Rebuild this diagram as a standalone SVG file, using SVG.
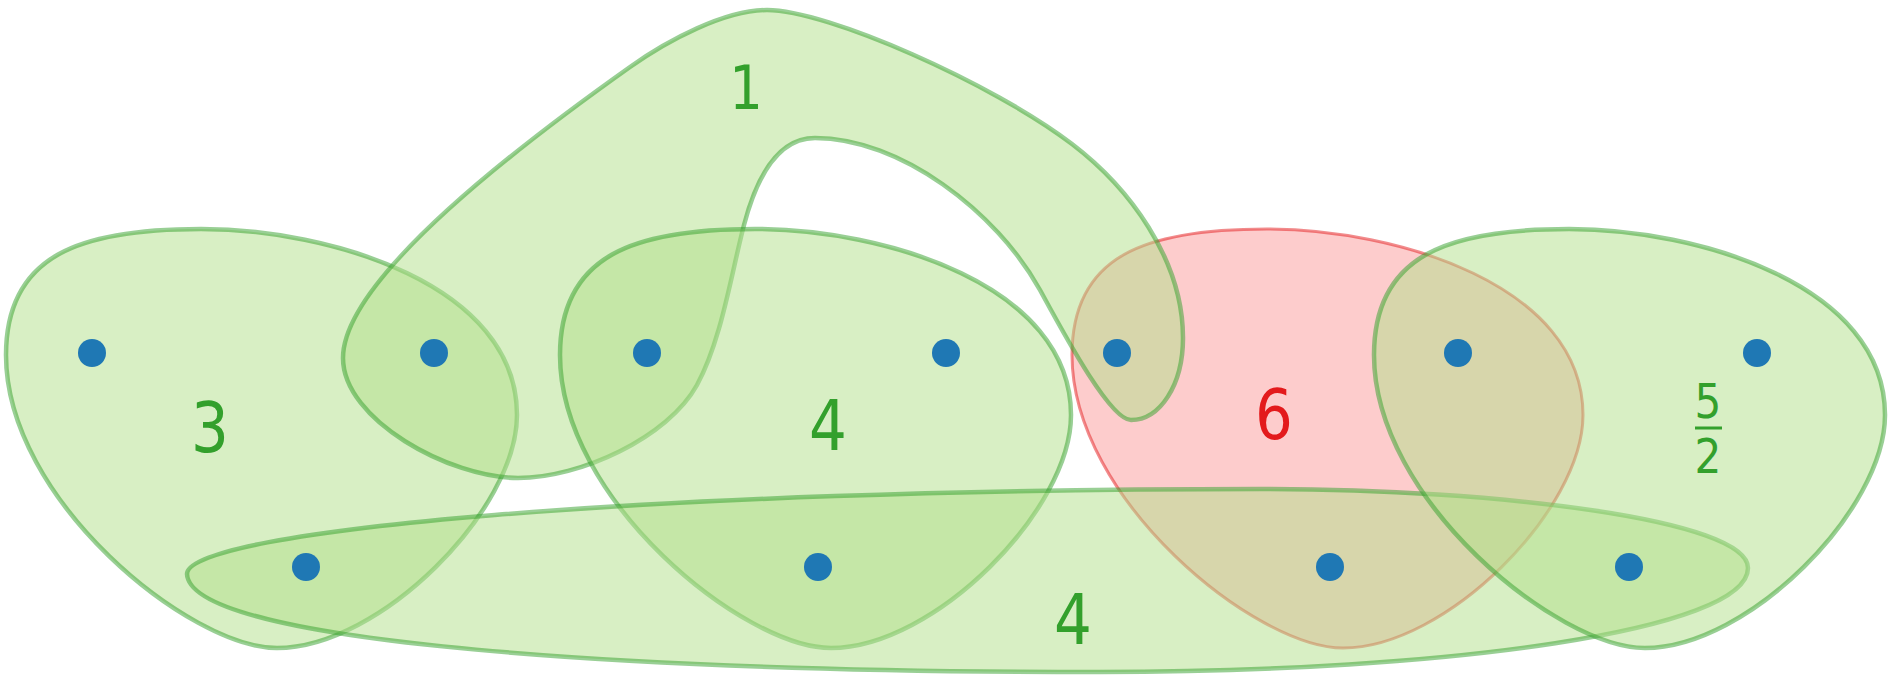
<svg xmlns="http://www.w3.org/2000/svg" width="1889" height="676" viewBox="0 0 1889 676">
  <style>
    .he-green { fill: #b2df8a; fill-opacity: 0.5; stroke: #33a02c; stroke-opacity: 0.5; stroke-width: 4.5; }
    .he-red { fill: #fb9a99; fill-opacity: 0.5; stroke: #e31a1c; stroke-opacity: 0.5; stroke-width: 3; }
    .node circle { fill: #1f78b4; }
    .lbl { font-family: "DejaVu Sans", "Liberation Sans", sans-serif; text-anchor: middle; fill: #33a02c; }
    .lbl-red { fill: #e31a1c; }
  </style>
  <defs>
    <!-- rounded three-vertex hull shared by several hyperedges -->
    <path id="hull3" d="M 201,229 C 330,229 517,285 517,415 C 517,510 380,648 277,648 C 190,648 6,500 6,355 C 6,255 80,229 201,229 Z"/>
  </defs>

  <!-- hyperedges -->
  <g id="edges">
    <use id="edge-6" href="#hull3" class="he-red" transform="translate(1066,0)"/>
    <use id="edge-3" href="#hull3" class="he-green"/>
    <path id="edge-1" class="he-green" d="M 767,10 C 827,10 992.5,83.3 1072,144 C 1127.7,186.5 1183,258 1183,338 C 1183,385 1160,420 1131,420 C 1110,420 1064,334 1040,290 C 996.4,211.25 900,138 815,138 C 780,138 758,171.8 744,225 C 731.3,273.4 721.2,341.2 697,385 C 668,437.6 580,478 518,478 C 450,478 343,420 343,358 C 343,285 491.3,165.3 630,67 C 668,40 725,10 767,10 Z"/>
    <use id="edge-4a" href="#hull3" class="he-green" transform="translate(554,0)"/>
    <path id="edge-4b" class="he-green" d="M 187,574 C 187,530 650,489 1260,489 C 1500,489 1748,520 1748,568 C 1748,630 1450,672 1100,672 C 650,672 190,645 187,574 Z"/>
    <use id="edge-52" href="#hull3" class="he-green" transform="translate(1368,0)"/>

    <!-- hyperedge weights -->
    <text class="lbl" transform="translate(746,109) scale(0.88,1)" font-size="60">1</text>
    <text class="lbl" transform="translate(210,452) scale(0.85,1)" font-size="70">3</text>
    <text class="lbl" transform="translate(828,450) scale(0.85,1)" font-size="70">4</text>
    <text class="lbl" transform="translate(1073,644) scale(0.85,1)" font-size="70">4</text>
    <text class="lbl lbl-red" transform="translate(1274,439) scale(0.85,1)" font-size="70">6</text>
    <text class="lbl" transform="translate(1708,418) scale(0.88,1)" font-size="48">5</text>
    <line x1="1695" y1="428" x2="1722" y2="428" stroke="#33a02c" stroke-width="3"/>
    <text class="lbl" transform="translate(1708,473) scale(0.88,1)" font-size="48">2</text>
  </g>

  <!-- vertices -->
  <g id="node-a" class="node"><circle cx="92" cy="353" r="14"/></g>
  <g id="node-b" class="node"><circle cx="434" cy="353" r="14"/></g>
  <g id="node-c" class="node"><circle cx="647" cy="353" r="14"/></g>
  <g id="node-d" class="node"><circle cx="946" cy="353" r="14"/></g>
  <g id="node-e" class="node"><circle cx="1117" cy="353" r="14"/></g>
  <g id="node-f" class="node"><circle cx="1458" cy="353" r="14"/></g>
  <g id="node-g" class="node"><circle cx="1757" cy="353" r="14"/></g>
  <g id="node-h" class="node"><circle cx="306" cy="567" r="14"/></g>
  <g id="node-i" class="node"><circle cx="818" cy="567" r="14"/></g>
  <g id="node-j" class="node"><circle cx="1330" cy="567" r="14"/></g>
  <g id="node-k" class="node"><circle cx="1629" cy="567" r="14"/></g>
</svg>
